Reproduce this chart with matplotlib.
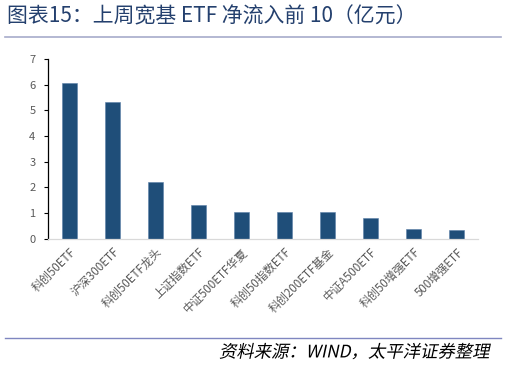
import matplotlib.pyplot as plt
from matplotlib.lines import Line2D
from matplotlib.patheffects import AbstractPathEffect
from matplotlib.transforms import Affine2D

plt.rcParams['font.family'] = ['Noto Sans CJK SC', 'DejaVu Sans']

# ---------- 数据 ----------
categories = ['科创50ETF', '沪深300ETF', '科创50ETF龙头', '上证指数ETF', '中证500ETF华夏',
              '科创50指数ETF', '科创200ETF基金', '中证A500ETF', '科创50增强ETF', '500增强ETF']
inflow = [6.05, 5.33, 2.19, 1.30, 1.05, 1.05, 1.05, 0.82, 0.37, 0.34]
yticks = [0, 1, 2, 3, 4, 5, 6, 7]

title = '图表15：上周宽基 ETF 净流入前 10（亿元）'
source = '资料来源：WIND，太平洋证券整理'


class Slant(AbstractPathEffect):
    """CJK 字体没有斜体，用仿射斜切模拟。"""
    def __init__(self, deg=12):
        super().__init__()
        self.deg = deg

    def draw_path(self, renderer, gc, tpath, affine, rgbFace=None):
        renderer.draw_path(gc, tpath, affine + Affine2D().skew_deg(self.deg, 0), rgbFace)


# ---------- 绘图 ----------
fig = plt.figure(figsize=(5.07, 3.66), dpi=100)
ax = fig.add_axes([0.0947, 0.348, 0.848, 0.491])

x = range(len(categories))
ax.bar(x, inflow, width=0.33, color='#1F4E79', edgecolor='#5B7FA8', linewidth=0.4)

ax.set_xlim(-0.5, len(categories) - 0.5)
ax.set_ylim(0, 7)
ax.set_yticks(yticks)
ax.tick_params(axis='y', direction='out', length=3, width=0.8, colors='black',
               labelcolor='#595959', labelsize=8, pad=6)
ax.set_xticks(list(x))
ax.set_xticklabels(categories, rotation=45, ha='right', rotation_mode='anchor',
                   fontsize=8.3, color='#595959')
ax.tick_params(axis='x', length=0, pad=5)

for s in ['top', 'right']:
    ax.spines[s].set_visible(False)
ax.spines['left'].set_color('black')
ax.spines['left'].set_linewidth(0.9)
ax.spines['bottom'].set_color('#D9D9D9')
ax.spines['bottom'].set_linewidth(0.9)

# 标题与来源
fig.text(0.014, 0.956, title, fontsize=15, color='#24406E', va='center', ha='left')
fig.add_artist(Line2D([0.01, 0.988], [0.899, 0.899], color='#A7ABCB', linewidth=1.2))
fig.add_artist(Line2D([0.01, 0.988], [0.077, 0.077], color='#7F86C0', linewidth=1.0))
fig.text(0.962, 0.037, source, fontsize=12.5, color='black',
         va='center', ha='right', path_effects=[Slant(12)])

fig.savefig('out.png', dpi=100)
